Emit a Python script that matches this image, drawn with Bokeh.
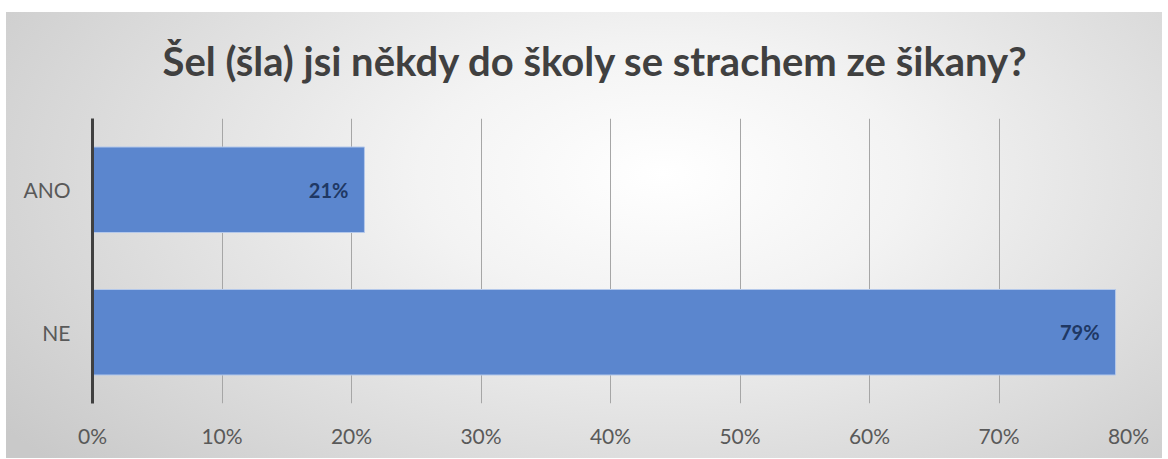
from bokeh.plotting import figure
from bokeh.models import ColumnDataSource, FactorRange, Range1d, LabelSet, NumeralTickFormatter, FixedTicker
from bokeh.core.properties import value
from bokeh.embed import file_html
from bokeh.resources import INLINE

# ---- data ----
categories = ["ANO", "NE"]
values = [0.21, 0.79]
value_labels = ["21%", "79%"]
x_ticks = [0.0, 0.1, 0.2, 0.3, 0.4, 0.5, 0.6, 0.7, 0.8]
title_text = "Šel (šla) jsi někdy do školy se strachem ze šikany?"

FONT = "Lato"

source = ColumnDataSource(data=dict(cat=categories, val=values, lab=value_labels))

p = figure(
    width=1162, height=458,
    y_range=FactorRange(factors=list(reversed(categories))),
    x_range=Range1d(0, 0.8),
    output_backend="svg", toolbar_location=None,
    min_border_left=92, min_border_right=34, min_border_top=118, min_border_bottom=55,
)
p.styles = {
    "background": "linear-gradient(#ffffff,#ffffff) 0 0/100% 12px no-repeat, "
                  "linear-gradient(#ffffff,#ffffff) 0 0/6px 100% no-repeat, "
                  "radial-gradient(ellipse 70% 95% at 57% 38%, #ffffff 0%, #f3f3f3 30%, #dedede 65%, #c9c9c9 100%)"
}
p.border_fill_color = None
p.background_fill_color = None
p.outline_line_color = None

p.hbar(y="cat", right="val", left=0, height=0.6, source=source,
       fill_color="#5B86CE", line_color="#B4C8EA", line_width=1)

labels = LabelSet(x="val", y="cat", text="lab", source=source, x_offset=-16,
                  text_align="right", text_baseline="middle",
                  text_font=value(FONT), text_font_style="bold", text_font_size="20px",
                  text_color="#1F3864")
p.add_layout(labels)

p.title.text = title_text
p.title.align = "left"
p.title.offset = 70
p.title.text_font = FONT
p.title.text_font_size = "40px"
p.title.text_font_style = "bold"
p.title.text_color = "#404040"
p.title.standoff = 68

p.xaxis.ticker = FixedTicker(ticks=x_ticks)
p.xaxis.formatter = NumeralTickFormatter(format="0%")
p.xaxis.axis_line_color = None
p.xaxis.major_tick_line_color = None
p.xaxis.minor_tick_line_color = None
p.xaxis.major_label_standoff = 13
p.xaxis.major_label_text_font = FONT
p.xaxis.major_label_text_font_size = "21px"
p.xaxis.major_label_text_color = "#595959"

p.yaxis.axis_line_color = "#404040"
p.yaxis.axis_line_width = 3
p.yaxis.major_tick_line_color = None
p.yaxis.minor_tick_line_color = None
p.yaxis.major_label_standoff = 16
p.yaxis.major_label_text_font = FONT
p.yaxis.major_label_text_font_size = "21px"
p.yaxis.major_label_text_color = "#595959"

p.xgrid.grid_line_color = "#A6A6A6"
p.xgrid.grid_line_width = 1
p.ygrid.grid_line_color = None

open("out.html", "w").write(file_html(p, INLINE))
